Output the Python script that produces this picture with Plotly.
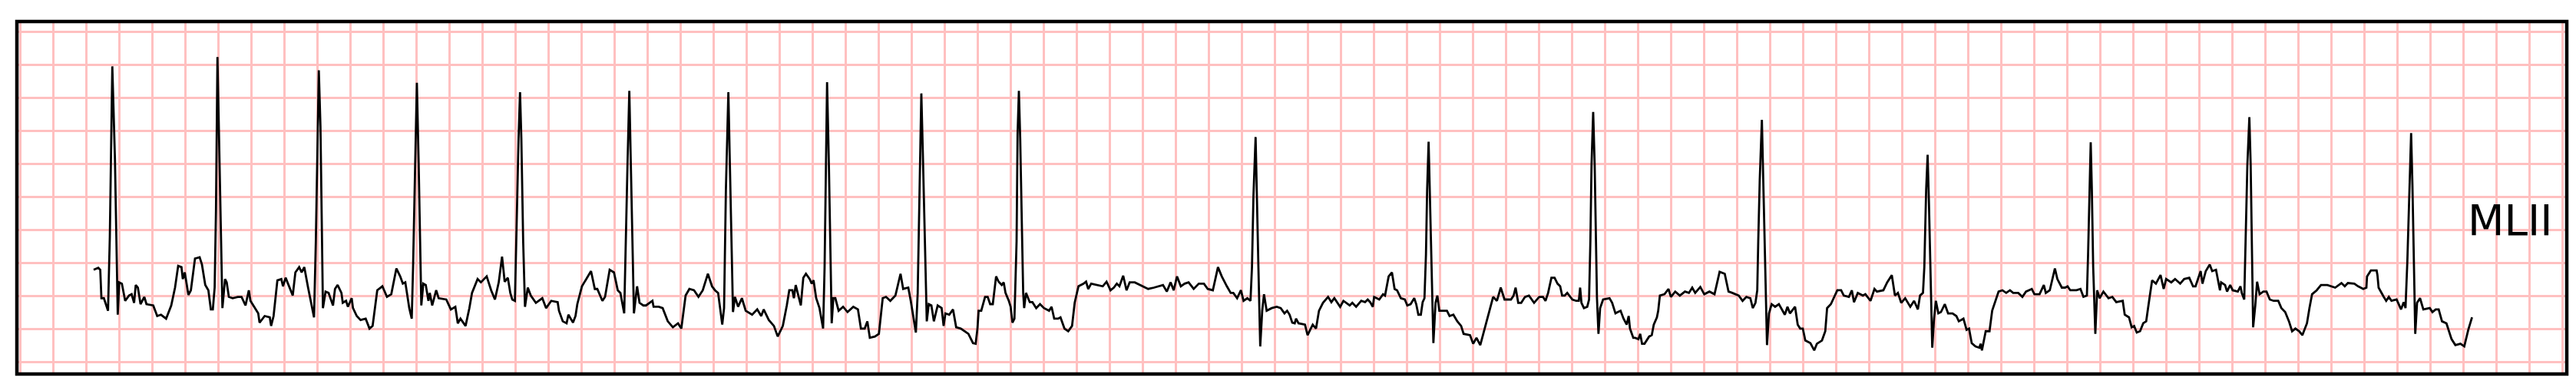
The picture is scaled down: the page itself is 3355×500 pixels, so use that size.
import plotly.graph_objects as go

strip_a = [(0.445, 0.40), (0.473, 0.43), (0.485, 0.40), (0.492, -0.03), (0.507, -0.03), (0.532, -0.22),
           (0.543, 0.90), (0.551, 2.49), (0.558, 3.48), (0.574, 2.07), (0.582, 1.10), (0.591, -0.28),
           (0.600, 0.21), (0.616, 0.19), (0.636, -0.07), (0.659, 0.01), (0.675, 0.03), (0.690, -0.10),
           (0.700, 0.17), (0.713, 0.13), (0.729, -0.12), (0.752, -0.01), (0.765, -0.12), (0.806, -0.14),
           (0.830, -0.30), (0.853, -0.28), (0.884, -0.34), (0.915, -0.14), (0.938, 0.13), (0.957, 0.46),
           (0.977, 0.44), (0.985, 0.26), (0.997, 0.36), (1.019, 0.02), (1.034, 0.09), (1.059, 0.57),
           (1.087, 0.59), (1.101, 0.48), (1.121, 0.17), (1.140, 0.09), (1.155, -0.20), (1.167, -0.20),
           (1.178, 0.13), (1.186, 1.29), (1.195, 3.62), (1.205, 2.45), (1.214, 1.29), (1.225, -0.18),
           (1.241, 0.26), (1.251, 0.21), (1.264, -0.01), (1.287, -0.03), (1.318, -0.01), (1.341, -0.01),
           (1.365, -0.14), (1.385, 0.09), (1.395, -0.07), (1.419, -0.16), (1.442, -0.26), (1.450, -0.40),
           (1.481, -0.30), (1.512, -0.32), (1.520, -0.45), (1.535, -0.30), (1.558, 0.24), (1.582, 0.26),
           (1.592, 0.15), (1.608, 0.28), (1.633, 0.13), (1.651, 0.01), (1.667, 0.36), (1.690, 0.44),
           (1.705, 0.36), (1.721, 0.44)]

strip_b = [(1.744, 0.13), (1.760, -0.07), (1.780, -0.32), (1.791, 0.83), (1.799, 2.14), (1.809, 3.42),
           (1.819, 2.57), (1.825, 1.21), (1.834, -0.18), (1.850, 0.07), (1.868, 0.05), (1.895, -0.14),
           (1.907, 0.11), (1.923, 0.17), (1.946, 0.05), (1.954, -0.10), (1.974, -0.07), (1.985, -0.16),
           (2.008, -0.03), (2.016, -0.18), (2.039, -0.30), (2.062, -0.36), (2.093, -0.34), (2.116, -0.49),
           (2.135, -0.45), (2.163, 0.09), (2.194, 0.15), (2.222, -0.01), (2.248, 0.03), (2.279, 0.42),
           (2.302, 0.30), (2.318, 0.19), (2.333, 0.21), (2.357, -0.18), (2.372, -0.34), (2.380, 0.44),
           (2.392, 1.99), (2.403, 3.23), (2.414, 1.99), (2.422, 0.63), (2.430, -0.14), (2.442, 0.19),
           (2.457, 0.17), (2.473, -0.07), (2.481, 0.05), (2.496, -0.14), (2.520, 0.09), (2.535, -0.03),
           (2.581, -0.05), (2.609, -0.20), (2.636, -0.16), (2.651, -0.41), (2.667, -0.34), (2.698, -0.45),
           (2.721, -0.18), (2.737, 0.05), (2.771, 0.26), (2.791, 0.21), (2.826, 0.30), (2.853, 0.09),
           (2.876, -0.05), (2.899, 0.21), (2.919, 0.60), (2.935, 0.22), (2.954, 0.28), (2.969, 0.05),
           (2.981, -0.05), (2.997, -0.07), (3.008, 1.21), (3.019, 2.38), (3.028, 3.09), (3.036, 2.38),
           (3.047, 0.83), (3.058, -0.16), (3.075, 0.13), (3.093, 0.01), (3.124, -0.10), (3.163, -0.03),
           (3.186, -0.18), (3.217, -0.07), (3.256, -0.09), (3.264, -0.22), (3.287, -0.38), (3.310, -0.41),
           (3.321, -0.28), (3.349, -0.40), (3.364, -0.30), (3.375, -0.12), (3.403, 0.15), (3.431, 0.26),
           (3.458, 0.38), (3.481, 0.11), (3.496, 0.11), (3.527, -0.07), (3.543, -0.01), (3.571, 0.40),
           (3.597, 0.36), (3.620, 0.09), (3.636, 0.05), (3.659, -0.26), (3.667, 0.83), (3.679, 1.99),
           (3.690, 3.11), (3.701, 1.60), (3.710, 0.44), (3.718, -0.26), (3.737, 0.15), (3.752, -0.10),
           (3.775, -0.14)]

strip_c = [(3.791, -0.14), (3.830, -0.07), (3.837, -0.16), (3.868, -0.16), (3.892, -0.18), (3.923, -0.38),
           (3.954, -0.47), (3.985, -0.41), (4.005, -0.49), (4.031, 0.01), (4.054, 0.11), (4.082, 0.09),
           (4.109, -0.01), (4.135, 0.09), (4.166, 0.34), (4.191, 0.15), (4.209, 0.09), (4.228, 0.05),
           (4.240, -0.18), (4.253, -0.43), (4.264, -0.18), (4.275, 1.60), (4.290, 3.09), (4.299, 2.07),
           (4.309, 0.83), (4.318, -0.24), (4.330, -0.01), (4.349, -0.16), (4.372, -0.03), (4.395, -0.22),
           (4.434, -0.28), (4.465, -0.20), (4.489, -0.30), (4.504, -0.20), (4.535, -0.36), (4.566, -0.45),
           (4.589, -0.61), (4.620, -0.45), (4.644, -0.14), (4.659, 0.09), (4.678, 0.09), (4.687, -0.03),
           (4.698, 0.17), (4.709, 0.05), (4.729, -0.14), (4.744, 0.28), (4.760, 0.34), (4.783, 0.26),
           (4.795, 0.19), (4.806, 0.24), (4.822, -0.03), (4.842, -0.18), (4.853, -0.34), (4.864, -0.49),
           (4.873, 0.44), (4.881, 1.99), (4.888, 3.24), (4.899, 1.99), (4.907, 0.83), (4.916, -0.41),
           (4.926, -0.03), (4.938, -0.03), (4.958, -0.22), (4.985, -0.16), (5.012, -0.24), (5.047, -0.16),
           (5.075, -0.20), (5.093, -0.49), (5.116, -0.49), (5.132, -0.38), (5.147, -0.63), (5.178, -0.61),
           (5.202, -0.57), (5.225, -0.03), (5.245, -0.01), (5.271, -0.07), (5.302, 0.01), (5.333, 0.34),
           (5.349, 0.11), (5.380, 0.13), (5.395, -0.07), (5.411, -0.34), (5.426, -0.55), (5.437, 0.05),
           (5.447, 1.60), (5.459, 3.07), (5.468, 2.18), (5.481, 0.83), (5.492, -0.38), (5.504, -0.12),
           (5.520, -0.14), (5.535, -0.38), (5.558, -0.14), (5.582, -0.18), (5.594, -0.45), (5.605, -0.26),
           (5.628, -0.28), (5.651, -0.20), (5.670, -0.47), (5.698, -0.49), (5.721, -0.53), (5.744, -0.57)]

strip_d = [(5.772, -0.71), (5.788, -0.72), (5.799, -0.49), (5.806, -0.22), (5.822, -0.22), (5.845, -0.01),
           (5.861, -0.01), (5.876, -0.12), (5.892, -0.12), (5.912, 0.30), (5.927, 0.22), (5.946, 0.17),
           (5.958, 0.21), (5.969, 0.05), (5.989, -0.07), (6.000, -0.16), (6.011, -0.40), (6.023, -0.34),
           (6.036, 0.83), (6.042, 2.45), (6.050, 3.11), (6.058, 2.38), (6.067, 1.21), (6.076, 0.05),
           (6.082, -0.18), (6.093, 0.05), (6.116, -0.09), (6.132, -0.09), (6.155, -0.18), (6.178, -0.12),
           (6.202, -0.18), (6.233, -0.22), (6.248, -0.16), (6.264, -0.34), (6.287, -0.34), (6.302, -0.32),
           (6.326, -0.49), (6.349, -0.53), (6.372, -0.45), (6.388, -0.10), (6.411, 0.15), (6.442, 0.19),
           (6.457, 0.22), (6.470, 0.11), (6.488, 0.19), (6.527, 0.17), (6.558, 0.15), (6.581, 0.22),
           (6.605, 0.09), (6.625, 0.13), (6.643, 0.19), (6.659, 0.15), (6.682, 0.31), (6.702, 0.09),
           (6.721, 0.21), (6.752, 0.21), (6.799, 0.15), (6.833, 0.11), (6.868, 0.13), (6.899, 0.15),
           (6.923, 0.17), (6.946, 0.07), (6.969, 0.21), (6.988, 0.09), (7.008, 0.30), (7.031, 0.15),
           (7.054, 0.19), (7.078, 0.21), (7.109, 0.11), (7.140, 0.19), (7.171, 0.19), (7.194, 0.11),
           (7.225, 0.09), (7.256, 0.44), (7.279, 0.30), (7.310, 0.15), (7.333, 0.05), (7.349, 0.05),
           (7.372, -0.03), (7.395, 0.09), (7.411, -0.07), (7.434, -0.03), (7.453, -0.07), (7.462, 0.44),
           (7.471, 1.52), (7.484, 2.41), (7.493, 1.52), (7.501, 0.44), (7.512, -0.76), (7.524, -0.22),
           (7.535, 0.03), (7.551, -0.22), (7.582, -0.18), (7.612, -0.16), (7.636, -0.18), (7.659, -0.26),
           (7.675, -0.22), (7.690, -0.28), (7.706, -0.40), (7.721, -0.41), (7.729, -0.34), (7.744, -0.41)]

strip_e = [(7.783, -0.43), (7.799, -0.59), (7.814, -0.51), (7.830, -0.43), (7.850, -0.49), (7.868, -0.22),
           (7.892, -0.10), (7.923, -0.01), (7.943, -0.09), (7.961, -0.03), (7.996, -0.16), (8.016, -0.07),
           (8.054, -0.14), (8.070, -0.10), (8.093, -0.16), (8.124, -0.07), (8.147, -0.09), (8.163, -0.05),
           (8.178, -0.09), (8.194, -0.16), (8.202, -0.01), (8.233, -0.05), (8.256, 0.03), (8.268, 0.01),
           (8.290, 0.30), (8.310, 0.36), (8.326, 0.11), (8.341, 0.09), (8.364, -0.03), (8.388, -0.05),
           (8.403, -0.14), (8.423, -0.12), (8.445, -0.03), (8.457, -0.12), (8.470, -0.28), (8.485, -0.28),
           (8.496, -0.09), (8.507, -0.03), (8.516, 0.63), (8.523, 1.60), (8.532, 2.34), (8.541, 1.41),
           (8.551, 0.44), (8.561, -0.71), (8.574, -0.10), (8.585, 0.01), (8.597, -0.22), (8.643, -0.22),
           (8.659, -0.30), (8.682, -0.28), (8.706, -0.38), (8.729, -0.45), (8.744, -0.57), (8.783, -0.59),
           (8.802, -0.72), (8.822, -0.63), (8.845, -0.74), (8.876, -0.45), (8.899, -0.22), (8.923, -0.01),
           (8.946, -0.07), (8.969, 0.13), (8.992, -0.05), (9.031, -0.05), (9.047, 0.01), (9.059, 0.13),
           (9.075, -0.10), (9.093, -0.10), (9.116, -0.01), (9.140, 0.01), (9.171, -0.10), (9.202, -0.01),
           (9.225, -0.01), (9.240, -0.07), (9.256, 0.05), (9.276, 0.28), (9.295, 0.28), (9.313, 0.19),
           (9.329, 0.15), (9.341, 0.01), (9.357, 0.01), (9.372, 0.05), (9.403, -0.05), (9.426, -0.07),
           (9.442, -0.07), (9.450, 0.13), (9.458, -0.10), (9.473, -0.18), (9.493, -0.16), (9.504, -0.05),
           (9.512, 0.83), (9.519, 1.99), (9.529, 2.79), (9.538, 1.99), (9.546, 0.83), (9.552, -0.03),
           (9.561, -0.57), (9.571, -0.18), (9.589, -0.05), (9.628, -0.03), (9.644, -0.10), (9.664, -0.26),
           (9.679, -0.24), (9.695, -0.22), (9.713, -0.34), (9.732, -0.43), (9.744, -0.30), (9.752, -0.49),
           (9.772, -0.63)]

strip_f = [(9.783, -0.63), (9.803, -0.65), (9.814, -0.57), (9.825, -0.72), (9.840, -0.72), (9.868, -0.61),
           (9.884, -0.59), (9.896, -0.43), (9.915, -0.32), (9.923, -0.22), (9.933, 0.01), (9.961, 0.03),
           (9.985, 0.11), (10.000, -0.01), (10.026, 0.07), (10.054, 0.01), (10.085, 0.07), (10.109, 0.05),
           (10.129, 0.13), (10.147, 0.05), (10.178, 0.14), (10.202, 0.03), (10.233, 0.07), (10.264, 0.03),
           (10.295, 0.37), (10.326, 0.34), (10.349, 0.07), (10.372, 0.05), (10.411, 0.01), (10.434, -0.07),
           (10.457, -0.01), (10.481, -0.03), (10.496, -0.18), (10.512, -0.10), (10.523, 0.09), (10.529, 0.83),
           (10.538, 1.76), (10.551, 2.67), (10.560, 1.60), (10.569, 0.44), (10.582, -0.74), (10.594, -0.26),
           (10.610, -0.12), (10.631, -0.16), (10.654, -0.12), (10.690, -0.28), (10.706, -0.16), (10.721, -0.26),
           (10.752, -0.16), (10.768, -0.43), (10.783, -0.49), (10.799, -0.49), (10.814, -0.67), (10.845, -0.71),
           (10.868, -0.82), (10.884, -0.72), (10.915, -0.67), (10.935, -0.53), (10.946, -0.18), (10.969, -0.12),
           (10.985, -0.03), (11.008, 0.09), (11.031, 0.09), (11.047, 0.01), (11.078, -0.01), (11.096, 0.09),
           (11.109, -0.09), (11.132, 0.05), (11.163, 0.01), (11.178, 0.03), (11.209, -0.07), (11.233, 0.11),
           (11.248, 0.07), (11.287, 0.09), (11.310, 0.21), (11.338, 0.32), (11.357, 0.01), (11.375, 0.05),
           (11.395, -0.10), (11.419, -0.03), (11.450, -0.16), (11.473, -0.07), (11.496, -0.20), (11.509, 0.01),
           (11.527, 0.05), (11.535, 0.44), (11.546, 1.60), (11.555, 2.14), (11.563, 1.41), (11.571, 0.52),
           (11.583, -0.78), (11.594, -0.34), (11.605, -0.07), (11.620, -0.26), (11.636, -0.24), (11.659, -0.12),
           (11.679, -0.26), (11.706, -0.26), (11.729, -0.30), (11.744, -0.38), (11.772, -0.34)]

strip_g = [(11.791, -0.51), (11.806, -0.49), (11.822, -0.71), (11.845, -0.76), (11.868, -0.78), (11.876, -0.72),
           (11.884, -0.82), (11.907, -0.53), (11.930, -0.53), (11.946, -0.22), (11.985, 0.07), (12.008, 0.09),
           (12.031, 0.05), (12.054, 0.09), (12.073, 0.05), (12.104, 0.05), (12.129, -0.01), (12.151, 0.07),
           (12.186, 0.11), (12.202, 0.03), (12.233, 0.03), (12.259, 0.17), (12.271, 0.05), (12.295, 0.09),
           (12.326, 0.42), (12.341, 0.26), (12.368, 0.13), (12.388, 0.13), (12.403, 0.15), (12.419, 0.09),
           (12.457, 0.09), (12.481, 0.11), (12.499, -0.01), (12.520, 0.01), (12.527, 0.63), (12.535, 1.60),
           (12.543, 2.33), (12.550, 1.60), (12.558, 0.44), (12.571, -0.57), (12.582, 0.09), (12.597, -0.03),
           (12.620, 0.07), (12.651, -0.03), (12.674, -0.01), (12.698, -0.09), (12.737, -0.07), (12.749, -0.28),
           (12.775, -0.32), (12.791, -0.47), (12.806, -0.45), (12.822, -0.55), (12.842, -0.53), (12.861, -0.41),
           (12.879, -0.38), (12.899, -0.03), (12.915, 0.24), (12.938, 0.19), (12.966, 0.32), (12.985, 0.11),
           (13.000, 0.26), (13.031, 0.21), (13.054, 0.26), (13.085, 0.19), (13.109, 0.26), (13.140, 0.28),
           (13.163, 0.15), (13.178, 0.15), (13.209, 0.38), (13.220, 0.19), (13.240, 0.38), (13.264, 0.48),
           (13.279, 0.38), (13.302, 0.40), (13.326, 0.09), (13.333, 0.21), (13.357, 0.17), (13.369, 0.07),
           (13.388, 0.17), (13.403, 0.09), (13.434, 0.07), (13.450, 0.15), (13.458, 0.05), (13.473, -0.05),
           (13.481, 0.83), (13.492, 1.99), (13.504, 2.71), (13.512, 1.99), (13.519, 0.83), (13.527, -0.47),
           (13.540, -0.14), (13.551, 0.22), (13.566, 0.03), (13.589, 0.07), (13.608, 0.07), (13.628, -0.05),
           (13.651, -0.07), (13.679, -0.07), (13.698, -0.18), (13.721, -0.24), (13.744, -0.38), (13.763, -0.53),
           (13.783, -0.49), (13.806, -0.53), (13.825, -0.59), (13.853, -0.41), (13.868, -0.18), (13.884, 0.03),
           (13.912, 0.09)]

strip_h = [(13.938, 0.17), (13.977, 0.17), (14.024, 0.13), (14.062, 0.20), (14.082, 0.15), (14.101, 0.20),
           (14.140, 0.19), (14.163, 0.15), (14.194, 0.11), (14.213, 0.13), (14.217, 0.30), (14.240, 0.39),
           (14.275, 0.39), (14.280, 0.32), (14.287, 0.13), (14.318, -0.01), (14.333, -0.07), (14.349, -0.01),
           (14.365, -0.07), (14.396, -0.05), (14.423, -0.20), (14.439, -0.09), (14.450, -0.18), (14.461, 0.52),
           (14.473, 1.68), (14.484, 2.47), (14.492, 1.68), (14.499, 0.52), (14.509, -0.57), (14.520, -0.10),
           (14.538, -0.03), (14.558, -0.20), (14.597, -0.18), (14.613, -0.24), (14.633, -0.20), (14.651, -0.20),
           (14.671, -0.38), (14.698, -0.41), (14.729, -0.65), (14.752, -0.74), (14.783, -0.72), (14.806, -0.76),
           (14.830, -0.51), (14.853, -0.32)]

lead_name = "MLII"

# ecg paper: one big box = 0.2 s by 0.5 mV
SEC_PER_BOX = 0.2
MV_PER_BOX = 0.5
GRID_PINK = "#ffc0c0"

samples = strip_a + strip_b + strip_c + strip_d + strip_e + strip_f + strip_g + strip_h
t = [s[0] for s in samples]
mv = [s[1] for s in samples]

fig = go.Figure()
fig.add_trace(go.Scatter(x=t, y=mv, mode="lines",
                         line=dict(color="black", width=2.8),
                         hoverinfo="skip", showlegend=False))

fig.add_annotation(x=15.087, y=1.15, xref="x", yref="y", text=lead_name,
                   showarrow=False, font=dict(family="DejaVu Sans", size=55, color="black"))

# black frame round the strip
fig.add_shape(type="rect", xref="paper", yref="paper", x0=0, y0=0, x1=1, y1=1,
              line=dict(color="black", width=4.5), layer="above")

fig.update_xaxes(range=[-0.020, 15.427], tick0=0, dtick=SEC_PER_BOX,
                 showgrid=True, gridcolor=GRID_PINK, gridwidth=3,
                 zeroline=False, showline=False, showticklabels=False, ticks="")
fig.update_yaxes(range=[-1.178, 4.159], tick0=0, dtick=MV_PER_BOX,
                 showgrid=True, gridcolor=GRID_PINK, gridwidth=3,
                 zeroline=False, showline=False, showticklabels=False, ticks="")

fig.update_layout(width=3355, height=500,
                  margin=dict(l=14, r=20, t=20, b=21, pad=0, autoexpand=False),
                  paper_bgcolor="white", plot_bgcolor="white")

fig.write_html("out.html")
